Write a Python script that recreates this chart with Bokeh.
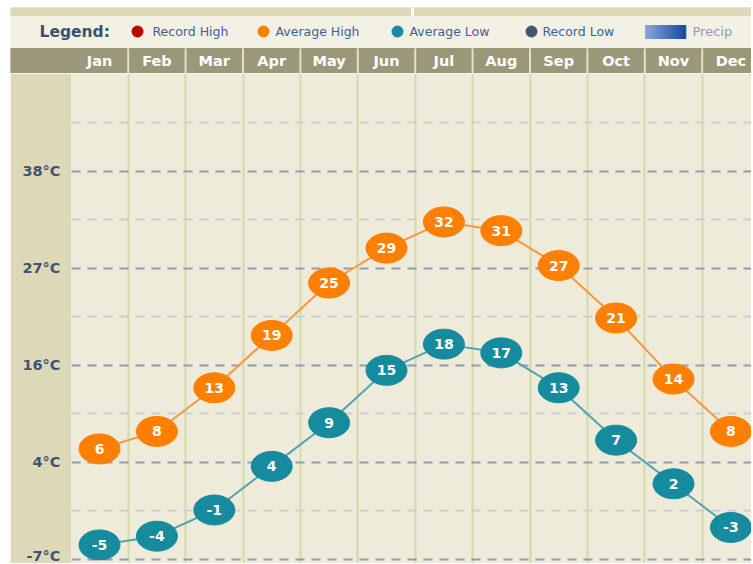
from bokeh.plotting import figure
from bokeh.models import Range1d, FixedTicker, ColumnDataSource
from bokeh.layouts import column
from bokeh.core.properties import value
from bokeh.embed import file_html
from bokeh.resources import INLINE

# ---------------- data ----------------
months = ["Jan", "Feb", "Mar", "Apr", "May", "Jun",
          "Jul", "Aug", "Sep", "Oct", "Nov", "Dec"]
avg_high_c = [6, 8, 13, 19, 25, 29, 32, 31, 27, 21, 14, 8]
avg_low_c = [-5, -4, -1, 4, 9, 15, 18, 17, 13, 7, 2, -3]
record_high_c = []   # listed in legend, not drawn in the reference
record_low_c = []    # listed in legend, not drawn in the reference

# the vertical scale is in °F, the labels show the rounded °C equivalents
ytick_f = [20, 40, 60, 80, 100]
ytick_labels = ["-7°C", "4°C", "16°C", "27°C", "38°C"]
yminor_f = [30, 50, 70, 90, 110]

legend_labels = ["Record High", "Average High", "Average Low", "Record Low"]
legend_colors = ["#c00000", "#ff8000", "#168b9d", "#3f5670"]

# ---------------- style / layout ----------------
FONT = value("DejaVu Sans")
TAN = "#ddd8b8"
LEGEND_BG = "#f3f1e4"
HEADER_BG = "#9b987a"
PLOT_BG = "#eeebda"
ORANGE = "#ff8000"
TEAL = "#168b9d"

W = 741
TOP_H = 66
PLOT_H = 490
LEFT = 61
COL_W = 57.4
JAN_PX = 89.0
PX_PER_F = 4.85
Y_TOP_F = 120.2
x0 = -JAN_PX / COL_W
x1 = x0 + W / COL_W

def c_to_f(c):
    return c * 9.0 / 5.0 + 32.0

idx = list(range(len(months)))
sep = [i + 0.5 for i in range(len(months) - 1)]

# ---------------- top: legend + month header ----------------
top = figure(width=W, height=TOP_H, x_range=Range1d(x0, x1), y_range=Range1d(0, TOP_H),
             output_backend="svg", toolbar_location=None,
             x_axis_location=None, y_axis_location=None, min_border=0,
             outline_line_color=None, background_fill_color=LEGEND_BG,
             border_fill_color=LEGEND_BG)
top.frame_align = False
top.extra_x_ranges = {"px": Range1d(0, W)}
top.grid.visible = False

top.quad(left=0, right=W, bottom=58, top=TOP_H, color=TAN, x_range_name="px")
top.quad(left=401, right=403, bottom=58, top=TOP_H, color="white", x_range_name="px")
top.quad(left=0, right=W, bottom=0, top=25, color=HEADER_BG, x_range_name="px")
top.segment(x0=sep, x1=sep, y0=[0] * len(sep), y1=[25] * len(sep),
            line_color="#e2e0cf", line_width=2)
top.text(x=idx, y=[12.5] * len(idx), text=months, text_align="center",
         text_baseline="middle", text_font=FONT, text_font_style="bold",
         text_font_size="14.5px", text_color="white")

LEG_Y = 42
top.text(x=[29], y=[LEG_Y], text=["Legend:"], text_align="left", text_baseline="middle",
         text_font=FONT, text_font_style="bold", text_font_size="15.5px",
         text_color="#3b5275", x_range_name="px")
dot_px = [127, 253, 387, 521]
lab_px = [142, 265, 399, 532]
top.scatter(x=dot_px, y=[LEG_Y] * 4, size=11, color=legend_colors, x_range_name="px")
top.text(x=lab_px, y=[LEG_Y] * 4, text=legend_labels, text_align="left",
         text_baseline="middle", text_font=FONT, text_font_size="12.5px",
         text_color="#41609a", x_range_name="px")
# precip swatch (gradient light -> dark blue)
n = 20
c0 = (138, 166, 216)
c1 = (26, 74, 160)
lefts, rights, cols = [], [], []
for k in range(n):
    t = k / (n - 1)
    rgb = tuple(int(round(a + (b - a) * t)) for a, b in zip(c0, c1))
    lefts.append(635 + 40 * k / n)
    rights.append(635 + 40 * (k + 1) / n + 0.3)
    cols.append("#%02x%02x%02x" % rgb)
top.quad(left=lefts, right=rights, bottom=[35] * n, top=[48] * n, color=cols,
         x_range_name="px")
top.text(x=[682], y=[LEG_Y], text=["Precip"], text_align="left", text_baseline="middle",
         text_font=FONT, text_font_size="13px", text_color="#8b9cc0", x_range_name="px")

# ---------------- main plot ----------------
p = figure(width=W, height=PLOT_H, x_range=Range1d(x0 + LEFT / COL_W, x1),
           y_range=Range1d(Y_TOP_F - PLOT_H / PX_PER_F, Y_TOP_F),
           output_backend="svg", toolbar_location=None,
           x_axis_location=None, min_border_left=LEFT, min_border_right=0,
           min_border_top=0, min_border_bottom=0, background_fill_color=PLOT_BG,
           border_fill_color=TAN, outline_line_color=None)
p.frame_align = False

p.yaxis.ticker = FixedTicker(ticks=ytick_f)
p.yaxis.major_label_overrides = dict(zip(ytick_f, ytick_labels))
p.yaxis.axis_line_color = None
p.yaxis.major_tick_line_color = None
p.yaxis.minor_tick_line_color = None
p.yaxis.major_tick_out = 0
p.yaxis.major_tick_in = 0
p.yaxis.major_label_standoff = 11
p.yaxis.major_label_text_font = "DejaVu Sans"
p.yaxis.major_label_text_font_style = "bold"
p.yaxis.major_label_text_font_size = "14.5px"
p.yaxis.major_label_text_color = "#3d5573"

p.ygrid.ticker = FixedTicker(ticks=ytick_f, minor_ticks=yminor_f)
p.ygrid.grid_line_color = "#939bb2"
p.ygrid.grid_line_width = 2
p.ygrid.grid_line_dash = "9 7"
p.ygrid.minor_grid_line_color = "#cbced4"
p.ygrid.minor_grid_line_width = 2
p.ygrid.minor_grid_line_dash = "9 7"
p.xgrid.ticker = FixedTicker(ticks=sep)
p.xgrid.grid_line_color = "#d3daa8"
p.xgrid.grid_line_width = 2

hi = ColumnDataSource(dict(x=idx, y=[c_to_f(v) for v in avg_high_c],
                           t=[str(v) for v in avg_high_c]))
lo = ColumnDataSource(dict(x=idx, y=[c_to_f(v) for v in avg_low_c],
                           t=[str(v) for v in avg_low_c]))

for src, line_col, fill_col in [(hi, "#f7983e", ORANGE), (lo, "#52a3ad", TEAL)]:
    p.line("x", "y", source=src, line_color=line_col, line_width=2)
    p.ellipse("x", "y", source=src, width=41, height=30, width_units="screen",
              height_units="screen", fill_color=fill_col, line_color=fill_col)
    p.text("x", "y", text="t", source=src, text_align="center", text_baseline="middle",
           text_font=FONT, text_font_style="bold", text_font_size="14px",
           text_color="white")

layout = column(top, p, spacing=0, margin=(7, 0, 0, 10))
open("out.html", "w").write(file_html(layout, INLINE))
